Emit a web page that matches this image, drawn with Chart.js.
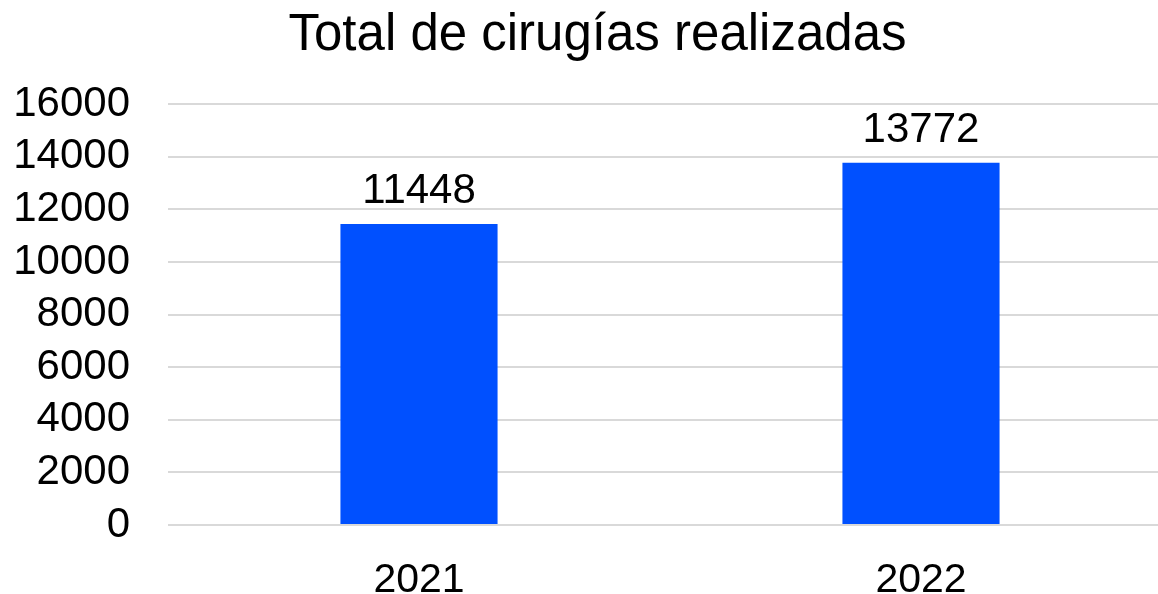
<!DOCTYPE html>
<html>
<head>
<meta charset="utf-8">
<script src="https://cdn.jsdelivr.net/npm/chart.js@4"></script>
<style>
    html, body { margin: 0; padding: 0; background: #fff; overflow: hidden; }
    #wrap { width: 1158px; height: 594px; overflow: hidden; }
</style>
</head>
<body>
<div id="wrap"><canvas id="surgery-chart" width="1172" height="594"></canvas></div>
<script>
// =======================
// Data
// =======================
const years = ["2021", "2022"];
const surgeries = [11448, 13772];
const yTicks = [0, 2000, 4000, 6000, 8000, 10000, 12000, 14000, 16000];

const fontFamily = '"Liberation Sans", Arial, sans-serif';

// draws the value above each bar
const valueLabels = {
    id: 'valueLabels',
    afterLayout(chart) {
        // let the wide y labels run past the layout padding without clipping
        chart.scales.y.left = 0;
    },
    afterDatasetsDraw(chart) {
        const ctx = chart.ctx;
        const meta = chart.getDatasetMeta(0);
        ctx.save();
        ctx.font = '42px ' + fontFamily;
        ctx.fillStyle = '#000';
        ctx.textAlign = 'center';
        ctx.textBaseline = 'alphabetic';
        meta.data.forEach((bar, i) => {
            ctx.fillText(String(surgeries[i]), bar.x, bar.y - 21);
        });
        ctx.restore();
    }
};

// =======================
// The Bar Graph
// =======================
const surgeryCanvas = document.querySelector('#surgery-chart');
const surgeryData = {
    labels: years,
    datasets: [{
        data: surgeries,
        backgroundColor: '#0050FF',
        borderWidth: 0,
        barPercentage: 0.313,
        categoryPercentage: 1
    }]
};
const surgeryOptions = {
    responsive: false,
    animation: false,
    layout: {
        padding: { left: 23, right: 0, top: 0, bottom: 0 }
    },
    scales: {
        x: {
            grid: { display: false },
            border: { display: false },
            ticks: {
                color: '#000',
                padding: 23,
                font: { family: fontFamily, size: 41 }
            },
            afterFit(scale) { scale.height = 69; }
        },
        y: {
            min: 0,
            max: 16000,
            afterBuildTicks(scale) {
                scale.ticks = yTicks.map(v => ({ value: v }));
            },
            grid: {
                color: '#d9d9d9',
                lineWidth: 2,
                drawTicks: false
            },
            border: { display: false },
            ticks: {
                color: '#000',
                padding: 38,
                autoSkip: false,
                font: { family: fontFamily, size: 42 },
                callback: value => String(value)
            },
            afterFit(scale) { scale.width = 145; }
        }
    },
    plugins: {
        legend: { display: false },
        tooltip: { enabled: false },
        title: {
            display: true,
            text: 'Total de cirugías realizadas',
            color: '#000',
            font: { family: fontFamily, size: 51, weight: 'normal', lineHeight: 1.2 },
            padding: { top: 5, bottom: 38 }
        }
    }
};
let surgeryChart = new Chart(surgeryCanvas, {
    type: 'bar',
    data: surgeryData,
    options: surgeryOptions,
    plugins: [valueLabels]
});
</script>
</body>
</html>
